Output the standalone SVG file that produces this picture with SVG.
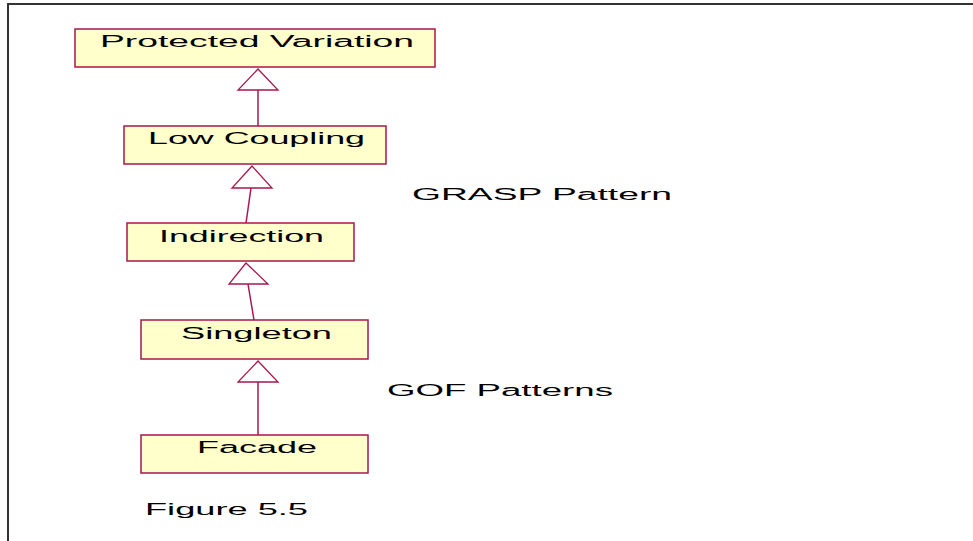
<svg xmlns="http://www.w3.org/2000/svg" width="973" height="541" viewBox="0 0 973 541">
<style>
.box{fill:#FFFFCC;stroke:#A8174F;stroke-width:1.5}
.t{font-family:"Liberation Sans",Arial,sans-serif;font-size:16px;fill:#000}
.c{stroke:#A8174F;stroke-width:1.5;fill:none}
.h{stroke:#A8174F;stroke-width:1.3;fill:#fff}
</style>
<rect width="973" height="541" fill="#fff"/>
<path d="M8 541 V4 H973" fill="none" stroke="#333" stroke-width="2"/>
<g id="protected-variation">
<rect class="box" x="75" y="29" width="360" height="38"/>
<text class="t" x="100" y="47" textLength="314" lengthAdjust="spacingAndGlyphs">Protected Variation</text>
</g>
<g id="low-coupling">
<rect class="box" x="124" y="126" width="262" height="38"/>
<text class="t" x="148" y="144" textLength="217" lengthAdjust="spacingAndGlyphs">Low Coupling</text>
</g>
<g id="indirection">
<rect class="box" x="127" y="223" width="227" height="38"/>
<text class="t" x="159" y="242" textLength="165" lengthAdjust="spacingAndGlyphs">Indirection</text>
</g>
<g id="singleton">
<rect class="box" x="141" y="320" width="227" height="39"/>
<text class="t" x="181" y="339" textLength="151" lengthAdjust="spacingAndGlyphs">Singleton</text>
</g>
<g id="facade">
<rect class="box" x="141" y="435" width="227" height="38"/>
<text class="t" x="197" y="453" textLength="120" lengthAdjust="spacingAndGlyphs">Facade</text>
</g>
<g id="connectors">
<line class="c" x1="258" y1="90" x2="258" y2="126"/>
<polygon class="h" points="258,69 238,90 278,90"/>
<line class="c" x1="251" y1="188" x2="246" y2="223"/>
<polygon class="h" points="252,166 232,188 272,188"/>
<line class="c" x1="248" y1="284" x2="254" y2="320"/>
<polygon class="h" points="246,263 229,284 268,284"/>
<line class="c" x1="258" y1="382" x2="258" y2="435"/>
<polygon class="h" points="258,361 238,382 278,382"/>
</g>
<g id="labels">
<text class="t" x="412" y="200" textLength="260" lengthAdjust="spacingAndGlyphs">GRASP Pattern</text>
<text class="t" x="387" y="396" textLength="226" lengthAdjust="spacingAndGlyphs">GOF Patterns</text>
<text class="t" x="145" y="515" textLength="163" lengthAdjust="spacingAndGlyphs">Figure 5.5</text>
</g>
</svg>
